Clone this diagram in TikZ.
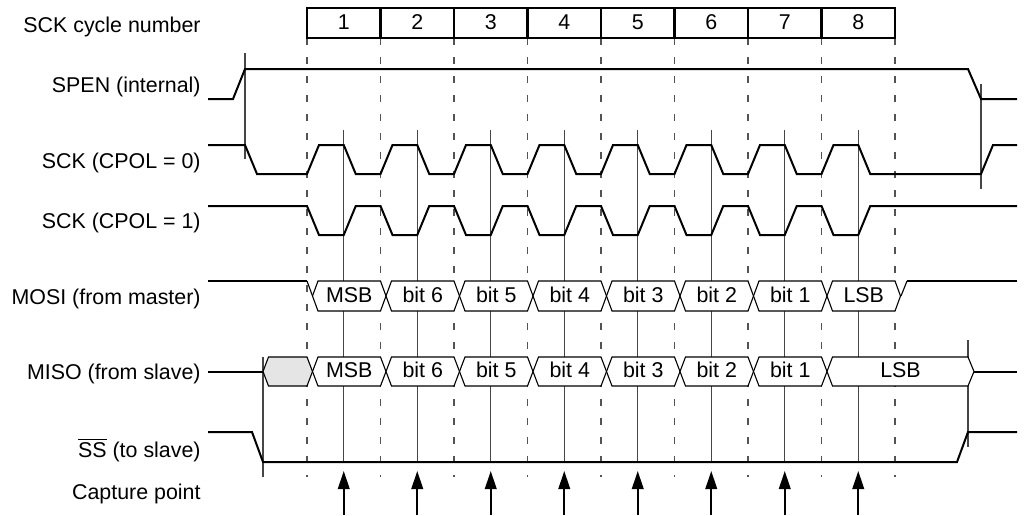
\documentclass[tikz,border=0pt]{standalone}
\usepackage{fontspec}
\setmainfont{Liberation Sans}
\usetikzlibrary{arrows.meta}
\begin{document}
\begin{tikzpicture}[x=0.5pt,y=-0.5pt,
  sig/.style={line width=1pt, line join=miter},
  thinsig/.style={line width=0.55pt, line join=miter},
  gridline/.style={gray!65!black, line width=0.55pt, dash pattern=on 3.5pt off 6pt},
  markline/.style={gray!55!black, line width=0.65pt},
  lbl/.style={anchor=base east, inner sep=0pt, font=\fontsize{10.7}{12}\selectfont},
  txt/.style={anchor=base, inner sep=0pt, font=\fontsize{10.7}{12}\selectfont},
  capture/.style={-{Triangle[length=9pt,width=5.8pt]}, line width=0.85pt},
  hexbox/.style={thinsig, fill=white},
  hexfill/.style={thinsig, fill=gray!20}
]
\useasboundingbox (0,0) rectangle (1028,515);

% labels
\node[lbl] (lcyc)  at (201,32)  {SCK cycle number};
\node[lbl] (lspen) at (201,92)  {SPEN (internal)};
\node[lbl] (lsck0) at (201,168) {SCK (CPOL = 0)};
\node[lbl] (lsck1) at (201,228) {SCK (CPOL = 1)};
\node[lbl] (lmosi) at (201,304) {MOSI (from master)};
\node[lbl] (lmiso) at (201,379) {MISO (from slave)};
\node[lbl] (lss)   at (201,457) {$\overline{\mbox{SS}}$ (to slave)};
\node[lbl] (lcap)  at (201,499) {Capture point};

% dashed cycle boundaries
\foreach \i in {0,...,8}
  \draw[gridline] ({307+73.5*\i},38) -- ({307+73.5*\i},477);

% cycle number box
\draw[line width=1.1pt] (307,8) rectangle (895,38);
\foreach \i in {1,...,7}
  \draw[line width=1.1pt] ({307+73.5*\i},8) -- ({307+73.5*\i},38);
\foreach \i in {1,...,8}
  \node[txt] (num\i) at ({307+73.5*(\i-0.5)},29) {\i};

% capture marker lines and arrows
\foreach \i in {0,...,7} {
  \draw[markline] ({343.75+73.5*\i},130) -- ({343.75+73.5*\i},462);
  \draw[capture] ({343.75+73.5*\i},515) -- ({343.75+73.5*\i},471);
}

% other marker lines
\draw[markline] (245,53) -- (245,159);
\draw[markline] (981,84) -- (981,189);
\draw[markline] (263,357) -- (263,477);
\draw[markline] (968,340) -- (968,447);

% SPEN
\draw[sig] (208,99) -- (233,99) -- (245,69) -- (968,69) -- (981,99) -- (1017,99);

% SCK CPOL=0
\draw[sig] (208,145) -- (245,145) -- (257,174) -- (307,174)
  \foreach \i in {0,...,7} {
    -- ({319+73.5*\i},145) -- ({343.75+73.5*\i},145)
    -- ({355.75+73.5*\i},174) -- ({380.5+73.5*\i},174)
  }
  -- (981,174) -- (993,145) -- (1017,145);

% SCK CPOL=1
\draw[sig] (208,206) -- (307,206)
  \foreach \i in {0,...,7} {
    -- ({319+73.5*\i},235) -- ({343.75+73.5*\i},235)
    -- ({355.75+73.5*\i},206) -- ({380.5+73.5*\i},206)
  }
  -- (1017,206);

% MOSI
\draw[sig] (208,281) -- (307,281);
\draw[thinsig] (307,281) -- (312.5,296);
\foreach \i/\t in {0/MSB,1/bit 6,2/bit 5,3/bit 4,4/bit 3,5/bit 2,6/bit 1,7/LSB} {
  \draw[hexbox] ({312.5+73.5*\i},296) -- ({318+73.5*\i},281) -- ({380.5+73.5*\i},281)
    -- ({386+73.5*\i},296) -- ({380.5+73.5*\i},311) -- ({318+73.5*\i},311) -- cycle;
  \node[txt] (mo\i) at ({349.25+73.5*\i},302) {\t};
}
\draw[thinsig] (901,296) -- (907,281);
\draw[sig] (907,281) -- (1017,281);

% MISO
\draw[sig] (208,371.5) -- (263,371.5);
\draw[hexfill] (263,371.5) -- (268.5,357) -- (307,357) -- (312.5,371.5) -- (307,386) -- (268.5,386) -- cycle;
\foreach \i/\t in {0/MSB,1/bit 6,2/bit 5,3/bit 4,4/bit 3,5/bit 2,6/bit 1} {
  \draw[hexbox] ({312.5+73.5*\i},371.5) -- ({318+73.5*\i},357) -- ({380.5+73.5*\i},357)
    -- ({386+73.5*\i},371.5) -- ({380.5+73.5*\i},386) -- ({318+73.5*\i},386) -- cycle;
  \node[txt] (mi\i) at ({349.25+73.5*\i},377) {\t};
}
\draw[hexbox] (827,371.5) -- (832.5,357) -- (968,357) -- (974,371.5) -- (968,386) -- (832.5,386) -- cycle;
\node[txt] (mi7) at (900.5,377) {LSB};
\draw[sig] (974,371.5) -- (1017,371.5);

% SS
\draw[sig] (208,432) -- (252,432) -- (263,462) -- (957,462) -- (968,432) -- (1017,432);
\end{tikzpicture}
\end{document}
